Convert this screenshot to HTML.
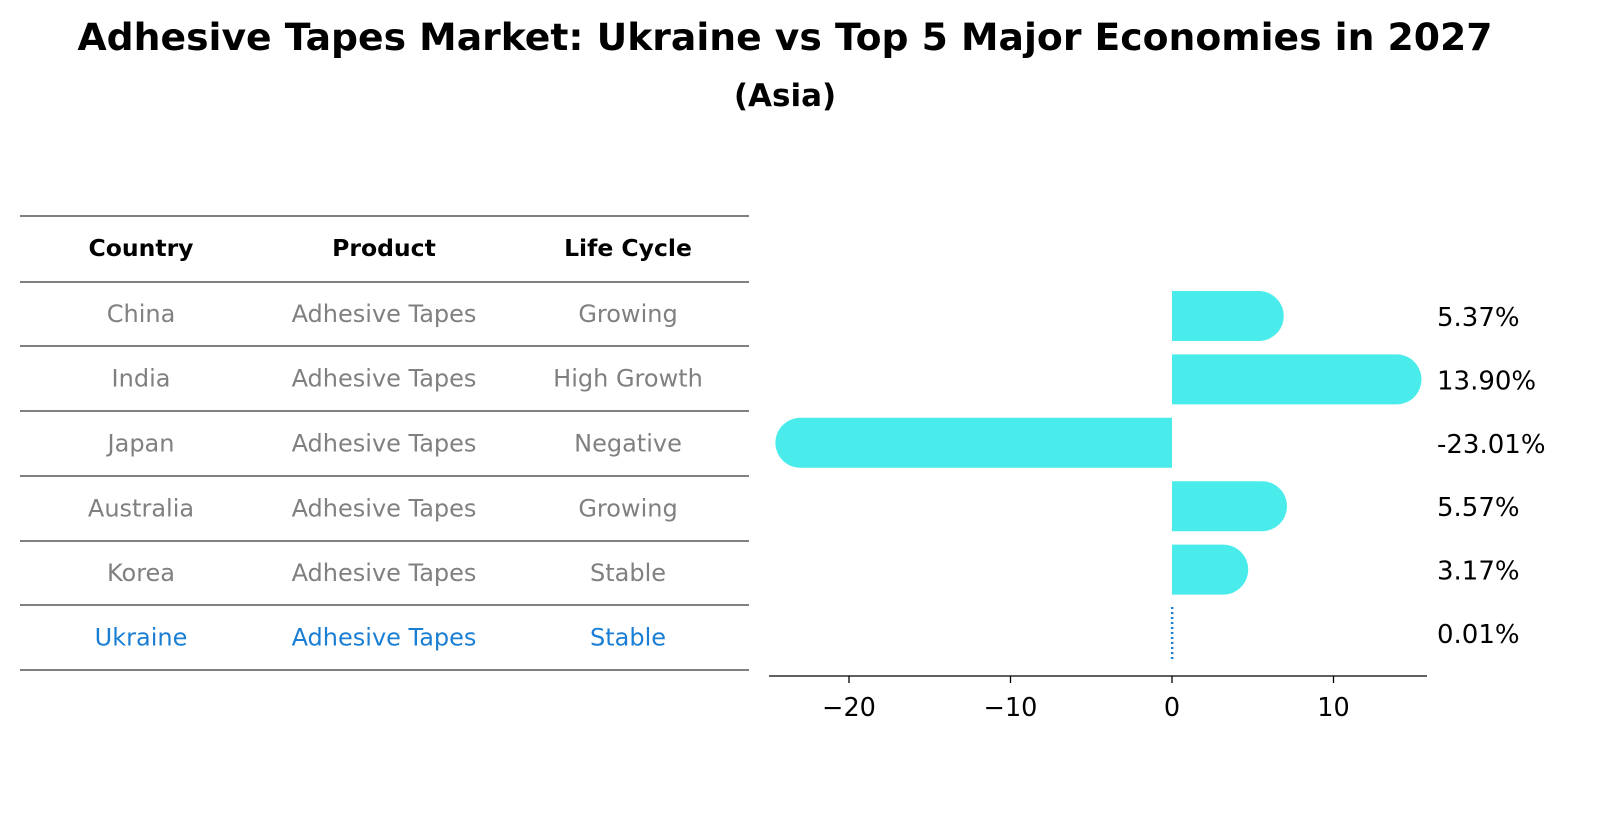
<!DOCTYPE html>
<html><head><meta charset="utf-8"><style>
body{margin:0;background:#fff;font-family:"Liberation Sans","DejaVu Sans",sans-serif}
#wrap{position:relative;width:1614px;height:823px;overflow:hidden}
</style></head><body>
<div id="wrap">
<svg id="svg" width="1614" height="823" xmlns="http://www.w3.org/2000/svg">
<text x="785" y="50" text-anchor="middle" font-size="37" font-weight="bold" font-family="DejaVu Sans, sans-serif" textLength="1415" lengthAdjust="spacingAndGlyphs">Adhesive Tapes Market: Ukraine vs Top 5 Major Economies in 2027</text>
<text x="785" y="106" text-anchor="middle" font-size="31" font-weight="bold" font-family="DejaVu Sans, sans-serif">(Asia)</text>
<g id="table"></g>
<g id="bars"></g>
</svg>
</div>
<script>
const countries=["China","India","Japan","Australia","Korea","Ukraine"];
const products=["Adhesive Tapes","Adhesive Tapes","Adhesive Tapes","Adhesive Tapes","Adhesive Tapes","Adhesive Tapes"];
const lifeCycles=["Growing","High Growth","Negative","Growing","Stable","Stable"];
const growthValues=[5.37,13.90,-23.01,5.57,3.17,0.01];
const tickValues=[-20,-10,0,10];

const NS="http://www.w3.org/2000/svg";
function mk(tag,attrs,parent,text){const e=document.createElementNS(NS,tag);for(const k in attrs)e.setAttribute(k,attrs[k]);if(text!==undefined)e.textContent=text;parent.appendChild(e);return e;}
const FONT="DejaVu Sans, sans-serif";
const tbl=document.getElementById('table');
const lineYs=[216,282,346,411,476,541,605,670];
lineYs.forEach((y,i)=>{const l=mk('line',{x1:20,x2:749,y1:y,y2:y,stroke:'#000','stroke-width':1},tbl);

});
const colX=[141,384,628];
["Country","Product","Life Cycle"].forEach((h,i)=>{const t=mk('text',{x:colX[i],y:256,'text-anchor':'middle','font-size':23.5,'font-weight':'bold','font-family':FONT},tbl,h);

});
countries.forEach((c,r)=>{const y=(lineYs[r+1]+lineYs[r+2])/2+8;const col=c==="Ukraine"?"#1a7fd4":"#808080";
[c,products[r],lifeCycles[r]].forEach((v,i)=>{const t=mk('text',{x:colX[i],y:y,'text-anchor':'middle','font-size':24,fill:col,'font-family':FONT},tbl,v);

});});
const g=document.getElementById('bars');
const x0=1172,ppu=16.15;const xs=v=>x0+v*ppu;
const rowY=i=>316+i*63.4;const rad=25;
growthValues.forEach((v,i)=>{const cy=rowY(i);let el;
if(countries[i]==="Ukraine"){el=mk('line',{x1:xs(v),x2:xs(v),y1:cy-26,y2:cy+26,stroke:'#1a7fd4','stroke-width':2.5,'stroke-dasharray':'2 3'},g);}
else{const xe=xs(v);const s=v>=0?1:-1;
const d=`M${x0},${cy-rad} L${xe},${cy-rad} A${rad},${rad} 0 0 ${s>0?1:0} ${xe},${cy+rad} L${x0},${cy+rad} Z`;
el=mk('path',{d:d,fill:'#4aeceb'},g);}


const t=mk('text',{x:1437,y:cy+10,'font-size':26,'font-family':FONT},g,v.toFixed(2)+'%');

});
const ax=mk('line',{x1:769,x2:1427,y1:676,y2:676,stroke:'#000','stroke-width':1.3},g);


tickValues.forEach(v=>{const tk=mk('line',{x1:xs(v),x2:xs(v),y1:676,y2:683,stroke:'#000','stroke-width':1.3},g);


const t=mk('text',{x:xs(v),y:716,'text-anchor':'middle','font-size':25.5,'font-family':FONT},g,String(v).replace('-','\u2212'));

});
</script>
</body></html>
